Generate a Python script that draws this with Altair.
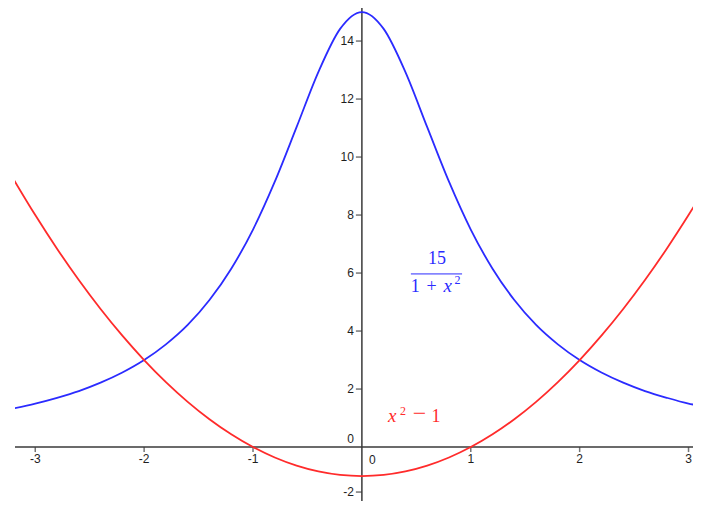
import altair as alt
import pandas as pd

# sample points
xs = [-3.2, -3.0, -2.8, -2.6, -2.4, -2.2, -2.0, -1.8, -1.6, -1.4, -1.2, -1.0,
      -0.8, -0.6, -0.4, -0.2, 0.0, 0.2, 0.4, 0.6, 0.8, 1.0, 1.2, 1.4, 1.6,
      1.8, 2.0, 2.2, 2.4, 2.6, 2.8, 3.0, 3.05]
blue_y = [1.33, 1.50, 1.70, 1.93, 2.22, 2.57, 3.00, 3.54, 4.21, 5.07, 6.15, 7.50,
          9.15, 11.03, 12.93, 14.42, 15.00, 14.42, 12.93, 11.03, 9.15, 7.50, 6.15,
          5.07, 4.21, 3.54, 3.00, 2.57, 2.22, 1.93, 1.70, 1.50, 1.46]
red_y = [9.24, 8.00, 6.84, 5.76, 4.76, 3.84, 3.00, 2.24, 1.56, 0.96, 0.44, 0.00,
         -0.36, -0.64, -0.84, -0.96, -1.00, -0.96, -0.84, -0.64, -0.36, 0.00, 0.44,
         0.96, 1.56, 2.24, 3.00, 3.84, 4.76, 5.76, 6.84, 8.00, 8.30]

x_ticks = [-3, -2, -1, 1, 2, 3]
x_tick_labels = ["-3", "-2", "-1", "1", "2", "3"]
y_ticks = [2, 4, 6, 8, 10, 12, 14]
y_tick_labels = ["2", "4", "6", "8", "10", "12", "14"]
y_low_tick = [-2]
y_low_label = ["-2"]

X_DOM = [-3.186, 3.041]
Y_DOM = [-1.86, 15.14]

xs_scale = alt.Scale(domain=X_DOM, nice=False, zero=False)
ys_scale = alt.Scale(domain=Y_DOM, nice=False, zero=False)

AXIS_COL = "#3a3a3a"
LBL_COL = "#1e1e1e"
BLUE = "#2b2bff"
RED = "#ff2b2b"

curves = pd.DataFrame({"x": xs, "blue": blue_y, "red": red_y})


def X(f="x"):
    return alt.X(f"{f}:Q", scale=xs_scale, axis=None)


def Y(f="y"):
    return alt.Y(f"{f}:Q", scale=ys_scale, axis=None)


blue_line = alt.Chart(curves).mark_line(
    color=BLUE, strokeWidth=1.8, interpolate="monotone", clip=True
).encode(x=X(), y=Y("blue"))

red_line = alt.Chart(curves).mark_line(
    color=RED, strokeWidth=1.8, interpolate="monotone", clip=True
).encode(x=X(), y=Y("red"))

# axes through origin
x_axis = alt.Chart(pd.DataFrame({"x": [X_DOM[0]], "x2": [X_DOM[1]], "y": [0]})).mark_rule(
    color=AXIS_COL, strokeWidth=1.5
).encode(x=X(), x2="x2:Q", y=Y())
y_axis = alt.Chart(pd.DataFrame({"x": [0], "y": [Y_DOM[0]], "y2": [Y_DOM[1]]})).mark_rule(
    color=AXIS_COL, strokeWidth=1.5
).encode(x=X(), y=Y(), y2="y2:Q")

xt = pd.DataFrame({"x": x_ticks, "lab": x_tick_labels, "y": [0] * len(x_ticks)})
x_tick_marks = alt.Chart(xt).mark_tick(
    color=AXIS_COL, orient="vertical", size=5, thickness=1.5, yOffset=2.5
).encode(x=X(), y=Y())
x_tick_text = alt.Chart(xt).mark_text(
    font="Liberation Sans", fontSize=12, color=LBL_COL, baseline="top", dy=7
).encode(x=X(), y=Y(), text="lab:N")

yt = pd.DataFrame({"y": y_ticks, "lab": y_tick_labels, "x": [0] * len(y_ticks)})
y_tick_marks = alt.Chart(yt).mark_tick(
    color=AXIS_COL, orient="horizontal", size=6, thickness=1.5, xOffset=-3
).encode(x=X(), y=Y())
y_tick_text = alt.Chart(yt).mark_text(
    font="Liberation Sans", fontSize=12, color=LBL_COL, align="right",
    baseline="middle", dx=-8
).encode(x=X(), y=Y(), text="lab:N")

# the -2 tick sits at the very bottom edge: nudge it up so it stays visible
ylow = pd.DataFrame({"y": y_low_tick, "lab": y_low_label, "x": [0]})
y_low_mark = alt.Chart(ylow).mark_tick(
    color=AXIS_COL, orient="horizontal", size=6, thickness=1.5, xOffset=-3, yOffset=-13
).encode(x=X(), y=Y())
y_low_text = alt.Chart(ylow).mark_text(
    font="Liberation Sans", fontSize=12, color=LBL_COL, align="right",
    baseline="middle", dx=-8, dy=-13
).encode(x=X(), y=Y(), text="lab:N")

zero_y = alt.Chart(pd.DataFrame({"x": [0], "y": [0], "lab": ["0"]})).mark_text(
    font="Liberation Sans", fontSize=12, color=LBL_COL, align="right",
    baseline="alphabetic", dx=-8, dy=-4
).encode(x=X(), y=Y(), text="lab:N")
zero_x = alt.Chart(pd.DataFrame({"x": [0], "y": [0], "lab": ["0"]})).mark_text(
    font="Liberation Sans", fontSize=12, color=LBL_COL, align="left",
    baseline="top", dx=7, dy=8
).encode(x=X(), y=Y(), text="lab:N")

# formula labels: 15 / (1 + x^2) in blue, x^2 - 1 in red
SERIF = "Liberation Serif"
col_scale = alt.Scale(domain=["b", "r"], range=[BLUE, RED])
COL = alt.Color("col:N", scale=col_scale, legend=None)

upright = pd.DataFrame({
    "x": [0.69, 0.49, 0.64, 0.68],
    "y": [6.31, 5.34, 5.34, 0.86],
    "lab": ["15", "1", "+", "1"],
    "col": ["b", "b", "b", "r"],
})
italic_x = pd.DataFrame({"x": [0.75, 0.24], "y": [5.34, 0.86], "lab": ["x", "x"], "col": ["b", "r"]})
supers = pd.DataFrame({"x": [0.85, 0.35], "y": [5.62, 1.12], "lab": ["2", "2"], "col": ["b", "r"]})
minus_piece = pd.DataFrame({"x": [0.53], "y": [0.90], "lab": ["−"]})

up_t = alt.Chart(upright).mark_text(
    font=SERIF, fontSize=18, align="center", baseline="alphabetic"
).encode(x=X(), y=Y(), text="lab:N", color=COL)
it_t = alt.Chart(italic_x).mark_text(
    font=SERIF, fontSize=19, fontStyle="italic", align="left", baseline="alphabetic"
).encode(x=X(), y=Y(), text="lab:N", color=COL)
sup_t = alt.Chart(supers).mark_text(
    font=SERIF, fontSize=12, align="left", baseline="alphabetic"
).encode(x=X(), y=Y(), text="lab:N", color=COL)
minus_t = alt.Chart(minus_piece).mark_text(
    font=SERIF, fontSize=24, align="center", baseline="alphabetic", color=RED
).encode(x=X(), y=Y(), text="lab:N")

frac_bar = alt.Chart(pd.DataFrame({"x": [0.45], "x2": [0.92], "y": [5.97]})).mark_rule(
    color=BLUE, strokeWidth=1
).encode(x=X(), x2="x2:Q", y=Y())

chart = alt.layer(
    x_axis, y_axis, x_tick_marks, y_tick_marks, x_tick_text, y_tick_text,
    y_low_mark, y_low_text, zero_y, zero_x, blue_line, red_line, frac_bar,
    up_t, it_t, sup_t, minus_t
).properties(
    width=678, height=493,
    padding={"left": 7, "top": 0, "right": 0, "bottom": 0},
    autosize=alt.AutoSizeParams(type="none"),
).configure_view(stroke=None)

chart.save("out.html", embed_options={"renderer": "svg", "actions": False})
